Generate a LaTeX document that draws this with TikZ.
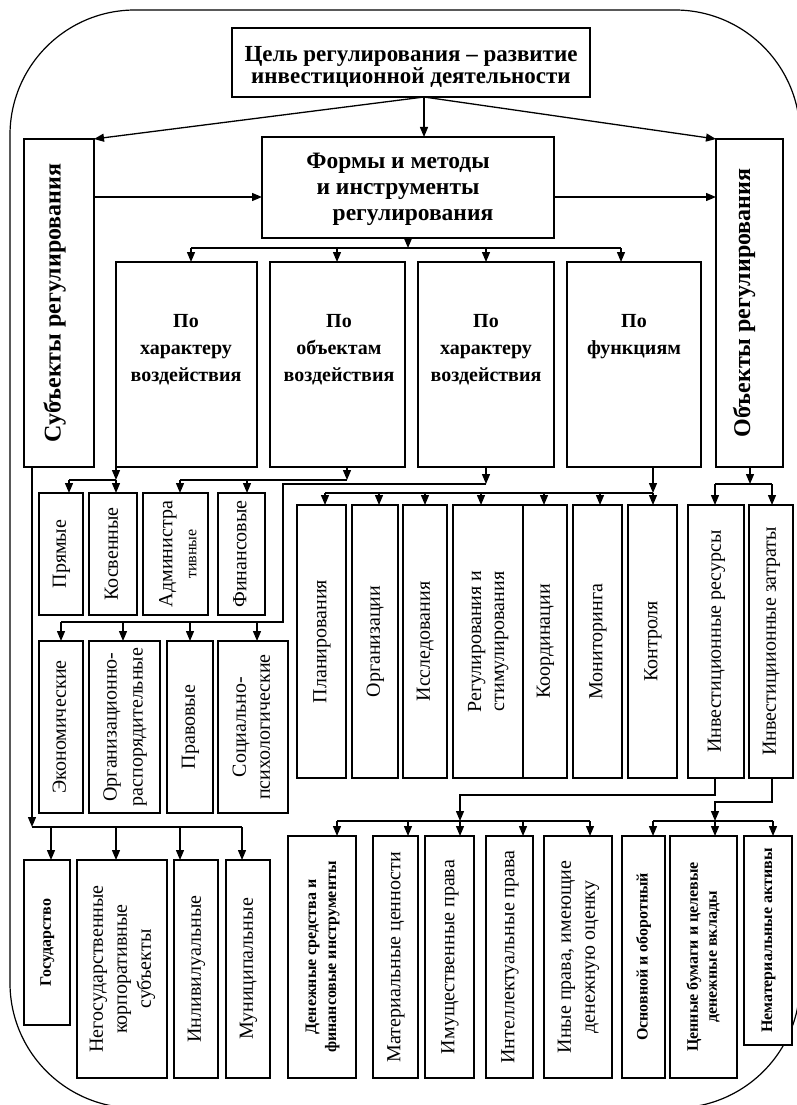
\documentclass[tikz,border=0pt]{standalone}
\usepackage{fontspec}
\setmainfont{Liberation Serif}
\usetikzlibrary{arrows.meta,calc}
\newcommand\fs[2]{\fontsize{#1pt}{#2pt}\selectfont}
\newcommand\vt[1]{\rotatebox{90}{\begin{tabular}{@{}c@{}}#1\end{tabular}}}
\newcommand\vtup[2]{\rotatebox{90}{\raisebox{#1}[\height][\depth]{\begin{tabular}{@{}c@{}}#2\end{tabular}}}}
\newcommand\pbox[7][]{\node[box,minimum width={(#5-#3)*1pt},minimum height={(#6-#4)*1pt},#1] (#2) at ({(#3+#5)/2},{(#4+#6)/2}) {#7};}
\tikzset{
  box/.style={draw,line width=1.4pt,fill=white,inner sep=0pt,outer sep=0pt,font=\fs{20}{24}},
  bbox/.style={font=\bfseries\fs{16}{20}},
  htext/.style={align=center,inner sep=0pt,font=\bfseries\fs{20}{27}},
  conn/.style={line width=1.3pt,line join=miter},
  arr/.style={conn,-{Triangle[length=10pt,width=8pt]}},
  frame/.style={line width=1.2pt,rounded corners=125pt},
}
\begin{document}
\begin{tikzpicture}[x=1pt,y=-1pt]
\useasboundingbox (0,0) rectangle (797,1105);
\fill[white] (0,0) rectangle (797,1105);
\clip (0,0) rectangle (797,1105);
\draw[frame] (10,10) rectangle (800,1108);

% top level
\pbox{goal}{232}{28}{590}{97}{}
\node[htext,font=\bfseries\fs{23}{22}] (goalt) at (411,67) {Цель регулирования – развитие\\инвестиционной деятельности};
\pbox[font=\bfseries\fs{24}{28}]{sub}{24}{139}{94}{467}{\vtup{4pt}{Субъекты регулирования}}
\pbox[font=\bfseries\fs{24}{28}]{obj}{716}{139}{783}{467}{\vtup{5pt}{Объекты регулирования}}
\pbox{forms}{262}{137}{554}{238}{}
\node[inner sep=0pt,font=\bfseries\fs{23.5}{26}] (formst) at (408,189) {\begin{tabular}{@{}c@{}}Формы и методы\hspace*{20pt}\\и инструменты\hspace*{20pt}\\\hspace*{10pt}регулирования\end{tabular}};

\pbox{p1}{116}{262}{257}{467}{}
\pbox{p2}{270}{262}{405}{467}{}
\pbox{p3}{418}{262}{554}{467}{}
\pbox{p4}{567}{262}{701}{467}{}
\node[htext] (p1t) at (186,350) {По\\характеру\\воздействия};
\node[htext] (p2t) at (339,350) {По\\объектам\\воздействия};
\node[htext] (p3t) at (486,350) {По\\характеру\\воздействия};
\node[htext] (p4t) at (634,336.5) {По\\функциям};

% row A
\pbox{a1}{39}{493}{83}{615}{\vt{Прямые}}
\pbox{a2}{89}{493}{137}{615}{\vt{Косвенные}}
\pbox{a3}{143}{493}{208}{615}{\vtup{-4pt}{Администра\\{\fs{16}{24}тивные}}}
\pbox{a4}{218}{493}{265}{615}{\vt{Финансовые}}
% row B
\pbox{b1}{39}{641}{83}{813}{\vt{Экономические}}
\pbox[font=\fs{20}{26}]{b2}{89}{641}{160}{813}{\vt{Организационно-\\распорядительные}}
\pbox{b3}{167}{641}{213}{813}{\vt{Правовые}}
\pbox{b4}{218}{641}{288}{813}{\vt{Социально-\\психологические}}
% row C
\pbox{c1}{297}{505}{346}{778}{\vt{Планирования}}
\pbox{c2}{352}{505}{398}{778}{\vt{Организации}}
\pbox{c3}{403}{505}{447}{778}{\vt{Исследования}}
\pbox[font=\fs{20}{23}]{c4}{453}{505}{523}{778}{\vt{Регулирования и\\стимулирования}}
\pbox{c5}{523}{505}{567}{778}{\vt{Координации}}
\pbox{c6}{573}{505}{622}{778}{\vt{Мониторинга}}
\pbox{c7}{628}{505}{677}{778}{\vt{Контроля}}
% row D
\pbox{d1}{688}{505}{744}{778}{\vt{Инвестиционные ресурсы}}
\pbox{d2}{749}{505}{793}{778}{\vt{Инвестициионные затраты}}
% row E
\pbox[bbox]{e1}{288}{836}{356}{1078}{\vt{Денежные средства и\\финансовые инструменты}}
\pbox{e2}{373}{836}{418}{1078}{\vt{Материальные ценности}}
\pbox{e3}{425}{836}{474}{1078}{\vt{Имущественные права}}
\pbox{e4}{486}{836}{533}{1078}{\vt{Интеллектуальные права}}
\pbox{e5}{544}{836}{612}{1078}{\vt{Иные права, имеющие\\денежную оценку}}
% row F
\pbox[bbox]{f1}{622}{836}{665}{1078}{\vt{Основной и оборотный}}
\pbox[font=\bfseries\fs{16}{19}]{f2}{670}{836}{737}{1078}{\vt{Ценные бумаги и целевые\\денежные вклады}}
\pbox[bbox]{f3}{744}{836}{792}{1045}{\vt{Нематериальные активы}}
% row G
\pbox[bbox]{g1}{24}{860}{70}{1025}{\vt{Государство}}
\pbox{g2}{77}{860}{167}{1078}{\vt{Негосударственные\\корпоративные\\субъекты}}
\pbox{g3}{174}{860}{218}{1078}{\vt{Инливилуальные}}
\pbox{g4}{226}{860}{270}{1078}{\vt{Муниципальные}}

% connectors: top
\coordinate (gs) at (424,97);
\draw[arr] (gs) -- (gs |- forms.north);
\draw[arr] (gs) -- (sub.north east);
\draw[arr] (gs) -- (obj.north west);
\coordinate (hy) at (0,197);
\draw[arr] (sub.east |- hy) -- (forms.west |- hy);
\draw[arr] (forms.east |- hy) -- (obj.west |- hy);

% forms bus
\coordinate (fb) at (408,248);
\coordinate (fbL) at (191,248);
\coordinate (fb2) at (337,248);
\coordinate (fb3) at (486,248);
\coordinate (fbR) at (621,248);
\draw[arr] (forms.south) -- (fb);
\draw[conn] (fbL) -- (fbR);
\draw[arr] (fbL) -- (fbL |- p1.north);
\draw[arr] (fb2) -- (fb2 |- p2.north);
\draw[arr] (fb3) -- (fb3 |- p3.north);
\draw[arr] (fbR) -- (fbR |- p4.north);

% p1 -> row A
\coordinate (aB0) at (69,480);
\coordinate (aB1) at (116,480);
\draw[arr] (aB1 |- p1.south) -- (aB1);
\draw[conn] (aB0) -- (aB1);
\draw[arr] (aB0) -- (aB0 |- a1.north);
\draw[arr] (aB1) -- (aB1 |- a2.north);
% p2 -> row A
\coordinate (aB2) at (180,480);
\coordinate (aB3) at (247,480);
\coordinate (aB4) at (347,480);
\draw[arr] (aB4 |- p2.south) -- (aB4);
\draw[conn] (aB2) -- (aB4);
\draw[arr] (aB2) -- (aB2 |- a3.north);
\draw[arr] (aB3) -- (aB3 |- a4.north);
% p3 -> row B
\coordinate (q3) at (486,484);
\coordinate (q3b) at (283,484);
\coordinate (bB) at (283,622);
\coordinate (bB1) at (61,622);
\coordinate (bB2) at (123,622);
\coordinate (bB3) at (190,622);
\coordinate (bB4) at (257,622);
\draw[arr] (q3 |- p3.south) -- (q3);
\draw[conn] (q3) -- (q3b) -- (bB) -- (bB1);
\draw[arr] (bB1) -- (bB1 |- b1.north);
\draw[arr] (bB2) -- (bB2 |- b2.north);
\draw[arr] (bB3) -- (bB3 |- b3.north);
\draw[arr] (bB4) -- (bB4 |- b4.north);
% p4 -> row C
\coordinate (cB1) at (325,493);
\coordinate (cB2) at (379,493);
\coordinate (cB3) at (425,493);
\coordinate (cB4) at (481,493);
\coordinate (cB5) at (544,493);
\coordinate (cB6) at (600,493);
\coordinate (cB7) at (653,493);
\draw[arr] (cB7 |- p4.south) -- (cB7);
\draw[conn] (cB1) -- (cB7);
\draw[arr] (cB1) -- (cB1 |- c1.north);
\draw[arr] (cB2) -- (cB2 |- c2.north);
\draw[arr] (cB3) -- (cB3 |- c3.north);
\draw[arr] (cB4) -- (cB4 |- c4.north);
\draw[arr] (cB5) -- (cB5 |- c5.north);
\draw[arr] (cB6) -- (cB6 |- c6.north);
\draw[arr] (cB7) -- (cB7 |- c7.north);
% obj -> row D
\coordinate (dB) at (750,484);
\coordinate (dB1) at (715,484);
\coordinate (dB2) at (772,484);
\draw[arr] (dB |- obj.south) -- (dB);
\draw[conn] (dB1) -- (dB2);
\draw[arr] (dB1) -- (dB1 |- d1.north);
\draw[arr] (dB2) -- (dB2 |- d2.north);
% d1 -> row E
\coordinate (eK1) at (715,795);
\coordinate (eK2) at (460,795);
\coordinate (eB1) at (337,821);
\coordinate (eB2) at (408,821);
\coordinate (eB3) at (460,821);
\coordinate (eB4) at (523,821);
\coordinate (eB5) at (590,821);
\draw[arr] (eK1 |- d1.south) -- (eK1) -- (eK2) -- (eB3);
\draw[conn] (eB1) -- (eB5);
\draw[arr] (eB1) -- (eB1 |- e1.north);
\draw[arr] (eB2) -- (eB2 |- e2.north);
\draw[arr] (eB3) -- (eB3 |- e3.north);
\draw[arr] (eB4) -- (eB4 |- e4.north);
\draw[arr] (eB5) -- (eB5 |- e5.north);
% d2 -> row F
\coordinate (fK1) at (772,802);
\coordinate (fK2) at (715,802);
\coordinate (fB1) at (653,821);
\coordinate (fB2) at (715,821);
\coordinate (fB3) at (773,821);
\draw[arr] (fK1 |- d2.south) -- (fK1) -- (fK2) -- (fB2);
\draw[conn] (fB1) -- (fB3);
\draw[arr] (fB1) -- (fB1 |- f1.north);
\draw[arr] (fB2) -- (fB2 |- f2.north);
\draw[arr] (fB3) -- (fB3 |- f3.north);
% sub -> row G
\coordinate (gB0) at (32,827);
\coordinate (gB1) at (51,827);
\coordinate (gB2) at (116,827);
\coordinate (gB3) at (180,827);
\coordinate (gB4) at (242,827);
\draw[arr] (gB0 |- sub.south) -- (gB0);
\draw[conn] (gB0) -- (gB4);
\draw[arr] (gB1) -- (gB1 |- g1.north);
\draw[arr] (gB2) -- (gB2 |- g2.north);
\draw[arr] (gB3) -- (gB3 |- g3.north);
\draw[arr] (gB4) -- (gB4 |- g4.north);
\end{tikzpicture}
\end{document}
